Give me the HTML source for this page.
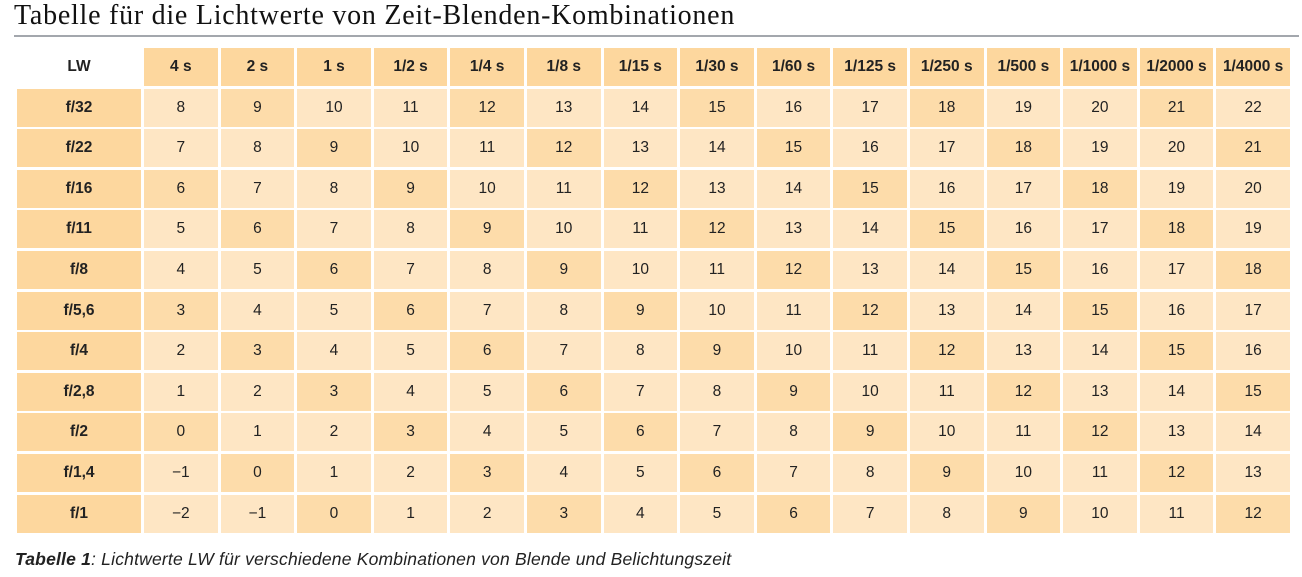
<!DOCTYPE html>
<html><head><meta charset="utf-8">
<style>
html,body{margin:0;padding:0;background:#fff;width:1302px;height:577px;overflow:hidden;position:relative}
#title{position:absolute;left:14px;top:0px;font-family:"Liberation Serif",serif;font-size:28px;color:#111;white-space:nowrap;margin:0;font-weight:normal;letter-spacing:0.75px}
#rule{position:absolute;left:14px;top:35px;width:1285px;height:2px;background:#a3a7ad}
#grid{position:absolute;left:17px;top:48px;display:grid;grid-template-columns:124px repeat(15,73.6px);grid-template-rows:38px repeat(11,38px);column-gap:3px;row-gap:2.6px;font-family:"Liberation Sans",sans-serif;font-size:15.5px;color:#222}
#grid div{display:flex;align-items:center;justify-content:center}
.hd{background:#fdd79e;font-weight:bold}
.corner{background:#fff;font-weight:bold}
.lt{background:#fee6c4}
.dk{background:#fddcaa}
#caption{position:absolute;left:15px;top:549px;font-family:"Liberation Sans",sans-serif;font-size:17.5px;font-style:italic;color:#222;white-space:nowrap;letter-spacing:0.2px}
</style></head>
<body>
<h1 id="title">Tabelle für die Lichtwerte von Zeit-Blenden-Kombinationen</h1>
<div id="rule"></div>
<div id="grid"></div>
<div id="caption"><b>Tabelle 1</b>: Lichtwerte LW für verschiedene Kombinationen von Blende und Belichtungszeit</div>
<script>
const shutterLabels = ["4 s","2 s","1 s","1/2 s","1/4 s","1/8 s","1/15 s","1/30 s","1/60 s","1/125 s","1/250 s","1/500 s","1/1000 s","1/2000 s","1/4000 s"];
const apertureLabels = ["f/32","f/22","f/16","f/11","f/8","f/5,6","f/4","f/2,8","f/2","f/1,4","f/1"];
const row0 = [8,9,10,11,12,13,14,15,16,17,18,19,20,21,22];
const row1 = [7,8,9,10,11,12,13,14,15,16,17,18,19,20,21];
const row2 = [6,7,8,9,10,11,12,13,14,15,16,17,18,19,20];
const row3 = [5,6,7,8,9,10,11,12,13,14,15,16,17,18,19];
const row4 = [4,5,6,7,8,9,10,11,12,13,14,15,16,17,18];
const row5 = [3,4,5,6,7,8,9,10,11,12,13,14,15,16,17];
const row6 = [2,3,4,5,6,7,8,9,10,11,12,13,14,15,16];
const row7 = [1,2,3,4,5,6,7,8,9,10,11,12,13,14,15];
const row8 = [0,1,2,3,4,5,6,7,8,9,10,11,12,13,14];
const row9 = [-1,0,1,2,3,4,5,6,7,8,9,10,11,12,13];
const row10 = [-2,-1,0,1,2,3,4,5,6,7,8,9,10,11,12];
const values = [row0,row1,row2,row3,row4,row5,row6,row7,row8,row9,row10];

const grid = document.getElementById('grid');
const corner = document.createElement('div');
corner.className = 'corner';
corner.textContent = 'LW';


grid.appendChild(corner);
shutterLabels.forEach(s => {
  const d = document.createElement('div');
  d.className = 'hd';
  d.textContent = s;
  
  
  grid.appendChild(d);
});
apertureLabels.forEach((a, i) => {
  const h = document.createElement('div');
  h.className = 'hd';
  h.textContent = a;
  
  
  grid.appendChild(h);
  values[i].forEach(v => {
    const c = document.createElement('div');
    c.className = (((v % 3) + 3) % 3 === 0) ? 'dk' : 'lt';
    c.textContent = v < 0 ? '\u2212' + Math.abs(v) : String(v);
    
    
    grid.appendChild(c);
  });
});
</script>
</body></html>
